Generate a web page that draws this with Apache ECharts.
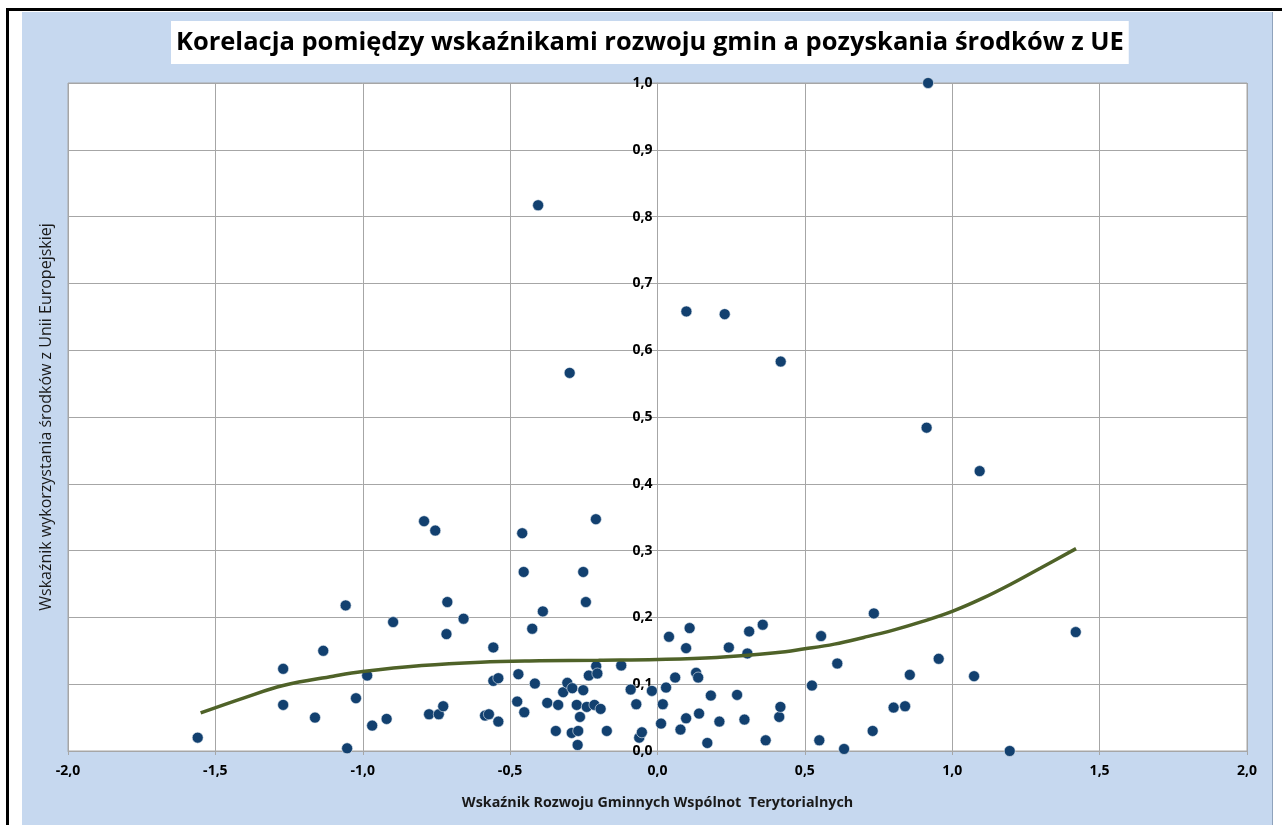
<!DOCTYPE html>
<html>
<head>
<meta charset="utf-8">
<script src="https://cdn.jsdelivr.net/npm/echarts@6/dist/echarts.min.js"></script>
<style>
  html, body { margin: 0; padding: 0; background: #fff; }
  #frame { position: absolute; left: 0; top: 0; width: 1282px; height: 825px; overflow: hidden; }
  #lineLeft { position: absolute; left: 6px; top: 8px; width: 3px; height: 817px; background: #000; }
  #lineTop { position: absolute; left: 6px; top: 8px; width: 1276px; height: 3px; background: #000; }
  #panel { position: absolute; left: 22px; top: 12px; width: 1250px; height: 813px; background: #c6d8ef; border-right: 1px solid #8fa3bc; }
  #chart { position: absolute; left: 0; top: 0; width: 1282px; height: 825px; }
</style>
</head>
<body>
<div id="frame">
  <div id="lineLeft"></div>
  <div id="lineTop"></div>
  <div id="panel"></div>
  <div id="chart"></div>
</div>
<script>
// Wskaźnik Rozwoju Gminnych Wspólnot Terytorialnych (oś X)
const devIndex = [
  -1.56, -1.27, -1.27, -1.162, -1.134, -1.058, -1.053, -1.023, -0.985, -0.968,
  -0.919, -0.897, -0.792, -0.754, -0.713, -0.658, -0.716, -0.775, -0.742, -0.727,
  -0.585, -0.572, -0.540, -0.557, -0.557, -0.540, -0.472, -0.476, -0.452, -0.459,
  -0.454, -0.425, -0.416, -0.389, -0.405, -0.374, -0.345, -0.337, -0.320, -0.306,
  -0.298, -0.291, -0.289, -0.274, -0.271, -0.269, -0.263, -0.252, -0.252, -0.243,
  -0.240, -0.233, -0.214, -0.209, -0.208, -0.204, -0.193, -0.172, -0.123, -0.091,
  -0.072, -0.062, -0.053, -0.019, 0.012, 0.018, 0.029, 0.039, 0.060, 0.078,
  0.097, 0.097, 0.098, 0.109, 0.131, 0.138, 0.141, 0.169, 0.181, 0.210,
  0.228, 0.242, 0.270, 0.295, 0.305, 0.311, 0.357, 0.367, 0.413, 0.417,
  0.418, 0.524, 0.549, 0.555, 0.610, 0.633, 0.730, 0.734, 0.801, 0.840,
  0.856, 0.913, 0.918, 0.954, 1.074, 1.093, 1.195, 1.419
]
// Wskaźnik wykorzystania środków z UE (oś Y)
const euIndex = [
  0.020, 0.123, 0.069, 0.050, 0.150, 0.218, 0.004, 0.079, 0.113, 0.038,
  0.048, 0.193, 0.344, 0.330, 0.223, 0.198, 0.175, 0.055, 0.055, 0.067,
  0.053, 0.055, 0.044, 0.155, 0.105, 0.109, 0.115, 0.074, 0.058, 0.326,
  0.268, 0.183, 0.101, 0.209, 0.817, 0.072, 0.030, 0.069, 0.088, 0.102,
  0.566, 0.027, 0.094, 0.069, 0.009, 0.030, 0.051, 0.091, 0.268, 0.223,
  0.066, 0.113, 0.069, 0.347, 0.127, 0.116, 0.063, 0.030, 0.128, 0.092,
  0.070, 0.020, 0.028, 0.090, 0.041, 0.070, 0.095, 0.171, 0.110, 0.032,
  0.154, 0.049, 0.658, 0.184, 0.117, 0.110, 0.056, 0.012, 0.083, 0.044,
  0.654, 0.155, 0.084, 0.047, 0.146, 0.179, 0.189, 0.016, 0.051, 0.066,
  0.583, 0.098, 0.016, 0.172, 0.131, 0.003, 0.030, 0.206, 0.065, 0.067,
  0.114, 0.484, 1.000, 0.138, 0.112, 0.419, 0.000, 0.178
]
// linia trendu (wielomianowa)
const trendX = [-1.55, -1.4, -1.27, -1.1, -1.0, -0.8, -0.6, -0.4, -0.2, 0.0, 0.2, 0.4, 0.5, 0.6, 0.7, 0.8, 0.9, 1.0, 1.1, 1.2, 1.3, 1.42]
const trendY = [0.057, 0.080, 0.098, 0.112, 0.119, 0.128, 0.133, 0.135, 0.136, 0.137, 0.140, 0.147, 0.153, 0.160, 0.170, 0.181, 0.194, 0.209, 0.228, 0.250, 0.274, 0.303]

const title = 'Korelacja pomiędzy wskaźnikami rozwoju gmin a pozyskania środków z UE'
const xName = 'Wskaźnik Rozwoju Gminnych Wspólnot  Terytorialnych'
const yName = 'Wskaźnik wykorzystania środków z Unii Europejskiej'

const myChart = echarts.init(document.getElementById('chart'))
const comma = v => v.toFixed(1).replace('.', ',')
const gridColor = '#a6a6a6'
const labelFont = 'Open Sans'
// szerokość siatki: oś Y ma stać w x = 0 (środek)
const gridLeft = 68, gridRight = 35
const plotWidth = 1282 - gridLeft - gridRight

let option = {
  animation: false,
  title: {
    text: title,
    left: 171,
    top: 21,
    backgroundColor: '#fff',
    padding: [5, 5, 5, 5],
    textStyle: { fontFamily: labelFont, fontWeight: 'bold', fontSize: 25.5, lineHeight: 33, color: '#000' }
  },
  grid: {
    left: gridLeft, right: gridRight, top: 83, bottom: 74,
    containLabel: false, outerBoundsMode: 'none',
    show: true, backgroundColor: '#fff', borderColor: gridColor, borderWidth: 1
  },
  xAxis: {
    type: 'value', min: -2, max: 2, interval: 0.5,
    name: xName, nameLocation: 'middle', nameGap: 45,
    nameTextStyle: { fontFamily: labelFont, fontWeight: 'bold', fontSize: 14.3, color: '#1a1a1a' },
    axisLine: { onZero: false, lineStyle: { color: gridColor } },
    axisTick: { show: true, length: 4, lineStyle: { color: gridColor } },
    axisLabel: { formatter: comma, fontFamily: labelFont, fontWeight: 'bold', fontSize: 14, color: '#000', margin: 13 },
    splitLine: { lineStyle: { color: gridColor } }
  },
  yAxis: {
    type: 'value', min: 0, max: 1, interval: 0.1,
    offset: -plotWidth / 2,
    name: yName, nameLocation: 'middle', nameGap: 603,
    nameTextStyle: { fontFamily: labelFont, fontSize: 16, color: '#1a1a1a' },
    axisLine: { show: true, onZero: false, lineStyle: { color: gridColor } },
    axisTick: { show: true, length: 3, lineStyle: { color: gridColor } },
    axisLabel: { formatter: comma, fontFamily: labelFont, fontWeight: 'bold', fontSize: 14, color: '#000', margin: 5 },
    splitLine: { lineStyle: { color: gridColor } }
  },
  series: [
    {
      name: 'gminy',
      type: 'scatter',
      symbol: 'circle',
      symbolSize: 11,
      itemStyle: { color: '#12406f', opacity: 1, borderColor: '#e8eef5', borderWidth: 0.6 },
      data: devIndex.map((x, i) => [x, euIndex[i]])
    },
    {
      name: 'trend',
      type: 'line',
      smooth: 0.4,
      showSymbol: false,
      lineStyle: { color: '#4f6228', width: 3.5 },
      data: trendX.map((x, i) => [x, trendY[i]]),
      z: 3
    }
  ]
}
myChart.clear()
myChart.setOption(option)
window.addEventListener('resize', function () {
  myChart.resize()
})
</script>
</body>
</html>
